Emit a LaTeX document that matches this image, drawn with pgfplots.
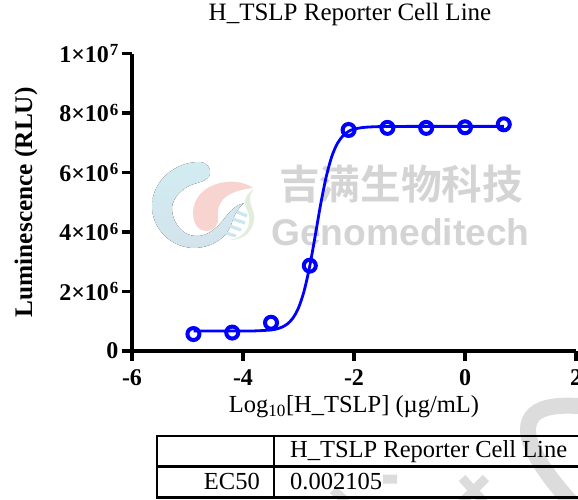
\documentclass[border=0pt]{standalone}
\usepackage{fontspec}
\setmainfont{Liberation Serif}
\newfontfamily\cjk{Noto Sans CJK SC}[BoldFont={* Bold}]
\newfontfamily\wmsans{Liberation Sans}
\usepackage{pgfplots}
\pgfplotsset{compat=1.18}
\definecolor{wm}{HTML}{D4D4D4}
\definecolor{wmb}{HTML}{DCDCDC}
\definecolor{lb}{HTML}{D2ECF2}\definecolor{lb2}{HTML}{D3E3EC}\definecolor{pk}{HTML}{F8D4D0}\definecolor{gr}{HTML}{E2EEDC}\definecolor{rg}{HTML}{CCE7F0}
\newcommand\E[1]{\kern1pt\raisebox{6.5pt}{\fontsize{17}{17}\selectfont #1}}
\begin{document}
\begin{tikzpicture}[x=1pt,y=-1pt]
\path[use as bounding box] (0,0) rectangle (578,499);
% watermark logo
\fill[top color=lb,bottom color=lb2,draw=none]
 (199,162) .. controls (207,162) and (211,168) .. (210,174)
 .. controls (208,181) and (199,182) .. (191,185)
 .. controls (178,191) and (171,201) .. (172,211)
 .. controls (174,225) and (183,235) .. (195,236)
 .. controls (209,237) and (219,226) .. (228,214)
 .. controls (232,209) and (237,205) .. (244,203)
 .. controls (237,209) and (234,216) .. (231,225)
 .. controls (226,238) and (213,247) .. (195,248)
 .. controls (170,248) and (152,228) .. (152,206)
 .. controls (152,182) and (174,162) .. cycle;
\fill[pk] (253,188) .. controls (245,182) and (232,180) .. (220,183)
 .. controls (203,187) and (193,199) .. (193,213)
 .. controls (193,224) and (199,231) .. (206,231)
 .. controls (214,231) and (219,225) .. (218,217)
 .. controls (216,203) and (225,191) .. cycle;
\fill[gr] (254,189) .. controls (244,195) and (243,203) .. (248,212)
 .. controls (252,222) and (248,238) .. (228,240)
 .. controls (244,241) and (256,230) .. (254,214)
 .. controls (252,205) and (246,199) .. cycle;
\draw[rg,line width=3.2pt] (237,212)--(247,216) (233,219)--(245,223) (230,226)--(241,230) (226,233)--(236,236);
% watermark text
\node[anchor=base west,inner sep=0,text=wm,font=\cjk\bfseries\fontsize{40.6}{40.6}\selectfont] at (279,199) {吉满生物科技};
\node[anchor=base west,inner sep=0,text=wm,font=\wmsans\bfseries\fontsize{37.2}{37.2}\selectfont] at (271,245) {Genomeditech};
% lower watermark
\draw[wmb,line width=16pt] (600,408) .. controls (565,404) and (528,402) .. (528,430) .. controls (528,450) and (550,480) .. (578,510);
\draw[wmb,line width=9pt] (462,478)--(484,502) (486,478)--(462,502) (383,479)--(397,479) (333,490)--(347,502);
\begin{axis}[
  at={(132pt,-351pt)},anchor=south west,
  scale only axis,width=444pt,height=297.5pt,
  xmin=-6,xmax=2,ymin=0,ymax=10000000,
  axis x line*=bottom,axis y line*=left,
  axis line style={line width=3.8pt,-},
  every tick/.style={black,line width=3.6pt},
  major tick length=10pt,tick align=outside,
  xtick={-6,-4,-2,0,2},xticklabels={-6,-4,-2,0,2},
  ytick={0,2000000,4000000,6000000,8000000,10000000},
  yticklabels={0,2×10\E{6},4×10\E{6},6×10\E{6},8×10\E{6},1×10\E{7}},
  ticklabel style={font=\bfseries\fontsize{24}{24}\selectfont},
  xticklabel style={yshift=-5pt},
  scaled y ticks=false,
  title={H\_TSLP Reporter Cell Line},
  title style={at={(axis description cs:0.491,1.0924)},anchor=base,inner sep=0,font=\fontsize{25}{25}\selectfont},
  xlabel={Log\textsubscript{10}[H\_TSLP] (µg/mL)},
  xlabel style={at={(axis description cs:0.5,-0.208)},anchor=base,inner sep=0,font=\fontsize{24.5}{24.5}\selectfont},
  ylabel={Luminescence (RLU)},
  ylabel style={at={(axis description cs:-0.225,0.5)},anchor=base,inner sep=0,font=\bfseries\fontsize{25.3}{25.3}\selectfont},
  clip=false,
]
\addplot[blue,line width=2.8pt,no marks,smooth] coordinates {
(-4.89,670000)(-4.2,671000)(-3.8,675000)(-3.5,706000)(-3.4,740000)(-3.3,800000)(-3.2,909000)(-3.1,1108000)(-3,1450000)(-2.9,2010000)(-2.8,2830000)(-2.7,3860000)(-2.6,4940000)(-2.5,5860000)(-2.4,6540000)(-2.3,6975000)(-2.2,7230000)(-2.1,7380000)(-2,7460000)(-1.8,7520000)(-1.5,7545000)(-1,7550000)(0,7550000)(0.7,7550000)};
\addplot[only marks,mark=o,mark size=6pt,mark options={draw=blue,line width=4pt,fill=none}] coordinates {
(-4.893,570000)(-4.194,620000)(-3.495,950000)(-2.796,2870000)(-2.097,7430000)(-1.398,7500000)(-0.699,7500000)(0,7520000)(0.699,7620000)};
\end{axis}
% table
\draw[black,line width=2.4pt] (157,436)--(600,436) (157,466.5)--(600,466.5) (157,497.5)--(600,497.5) (157,435)--(157,498.5) (274,435)--(274,498.5);
\node[anchor=base west,inner sep=0,font=\fontsize{24.5}{24.5}\selectfont] at (290,457) {H\_TSLP Reporter Cell Line};
\node[anchor=base west,inner sep=0,font=\fontsize{24.5}{24.5}\selectfont] at (290,489) {0.002105};
\node[anchor=base east,inner sep=0,font=\fontsize{24.5}{24.5}\selectfont] at (260,489) {EC50};
\end{tikzpicture}
\end{document}
